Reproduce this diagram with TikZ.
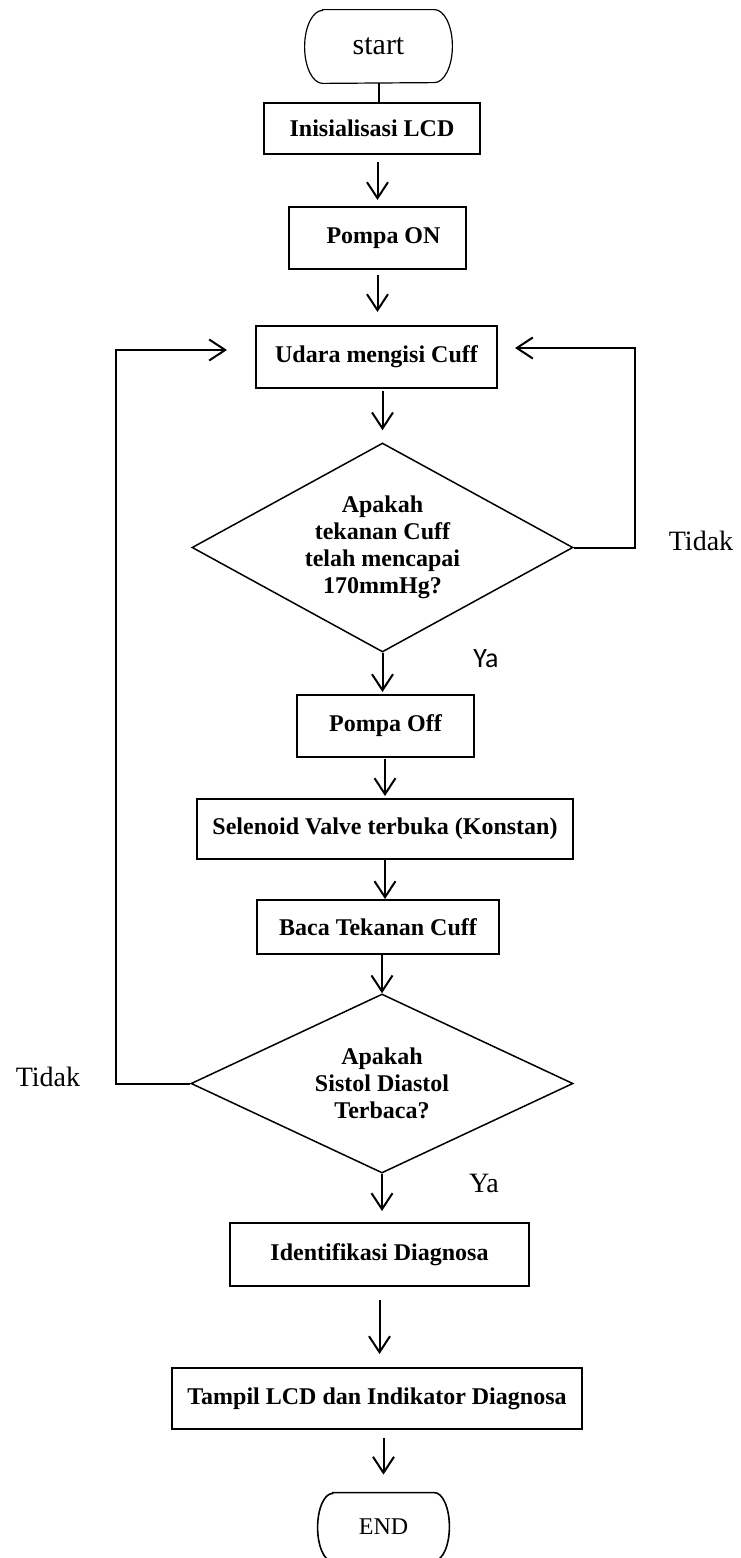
\documentclass[tikz,border=0pt]{standalone}
\usepackage{fontspec}
\setmainfont{Liberation Serif}
\newfontfamily\calibri{Carlito}
\usetikzlibrary{shapes.geometric,arrows.meta}

\begin{document}
\begin{tikzpicture}[x=0.5pt, y=-0.5pt,
    box/.style={draw, line width=1pt, inner sep=0pt,
                font=\fontsize{12}{14}\selectfont\bfseries},
    decision/.style={draw, diamond, line width=0.75pt, inner sep=0pt, align=center,
                     font=\fontsize{12}{13.5}\selectfont\bfseries},
    terminal/.style={inner sep=0pt},
    flow/.style={line width=1pt, -{Straight Barb[length=8pt,width=10.5pt]}},
    answer/.style={font=\fontsize{14}{16}\selectfont}]

  \useasboundingbox (0,0) rectangle (740,1558);

  %                                               x,y (px)
  \node [terminal, minimum width=73.5pt, minimum height=36.5pt,
         font=\fontsize{15}{18}\selectfont] (start) at (378.5,46.5) {start};
  \draw [line width=0.6pt]
        ([xshift=9pt]start.north west) -- ([xshift=-9pt]start.north east)
        arc [start angle=90, end angle=-90, x radius=9pt, y radius=18.25pt]
        -- ([xshift=9pt]start.south west)
        arc [start angle=270, end angle=90, x radius=9pt, y radius=18.25pt] -- cycle;

  \node [box, minimum width=108pt, minimum height=25.5pt] (inis) at (372,128.5) {Inisialisasi LCD};
  \node [box, minimum width=88.5pt, minimum height=31pt] (pompaon) at (377.5,238) {\hspace{6pt}Pompa ON};
  \node [box, minimum width=120.5pt, minimum height=31pt] (udara) at (376.5,357) {Udara mengisi Cuff};

  \node [decision, aspect=1.82, minimum width=190.5pt, minimum height=104.5pt] (d1) at (382.5,547.5)
        {Apakah\\tekanan Cuff\\telah mencapai\\170mmHg?};

  \node [box, minimum width=88.5pt, minimum height=31pt] (pompaoff) at (385.5,726) {Pompa Off};
  \node [box, minimum width=188pt, minimum height=30pt] (selenoid) at (385,829) {Selenoid Valve terbuka (Konstan)};
  \node [box, minimum width=121pt, minimum height=27pt] (baca) at (378,927) {Baca Tekanan Cuff};

  \node [decision, aspect=2.13, minimum width=191pt, minimum height=89.5pt] (d2) at (382,1083.5)
        {Apakah\\Sistol Diastol\\Terbaca?};

  \node [box, minimum width=149.5pt, minimum height=31.5pt] (ident) at (379.5,1254.5) {Identifikasi Diagnosa};
  \node [box, minimum width=205pt, minimum height=30.5pt] (tampil) at (377,1398.5) {Tampil LCD dan Indikator Diagnosa};

  \node [terminal, minimum width=65.5pt, minimum height=34pt,
         font=\fontsize{12}{14}\selectfont] (finish) at (383.5,1527) {END};
  \draw [line width=0.8pt]
        ([xshift=7.5pt]finish.north west) -- ([xshift=-7.5pt]finish.north east)
        arc [start angle=90, end angle=-90, x radius=7.5pt, y radius=17pt]
        -- ([xshift=7.5pt]finish.south west)
        arc [start angle=270, end angle=90, x radius=7.5pt, y radius=17pt] -- cycle;

  % main flow
  \draw [line width=1pt] (start.south) -- (start.south |- inis.north);
  \draw [flow, shorten <=3.5pt, shorten >=3pt] (inis.south -| pompaon) -- (pompaon.north);
  \draw [flow, shorten <=2.5pt, shorten >=6.5pt] (pompaon.south) -- (pompaon.south |- udara.north);
  \draw [flow, shorten <=1pt, shorten >=6pt] (udara.south -| d1) -- (d1.north);
  \draw [flow, shorten >=1pt] (d1.south) -- (d1.south |- pompaoff.north);
  \draw [flow, shorten <=0.5pt, shorten >=1pt] (pompaoff.south -| selenoid) -- (selenoid.north);
  \draw [flow] (selenoid.south) -- (selenoid.south |- baca.north);
  \draw [flow] (baca.south -| d2) -- (d2.north);
  \draw [flow, shorten >=5.5pt] (d2.south) -- (d2.south |- ident.north);
  \draw [flow, shorten <=6.5pt, shorten >=6.5pt] (ident.south) -- (ident.south |- tampil.north);
  \draw [flow, shorten <=4pt, shorten >=9pt] (tampil.south -| finish) -- (finish.north);

  % loops back to Udara mengisi Cuff
  \coordinate (rbot) at (635,547.5);
  \coordinate (rtop) at (635,348);
  \draw [flow, shorten >=8.5pt] (d1.east) -- (rbot) -- (rtop) -- (rtop -| udara.east);

  \coordinate (lbot) at (116,1083.5);
  \coordinate (ltop) at (116,350);
  \draw [flow, shorten >=14pt] (d2.west) -- (lbot) -- (ltop) -- (ltop -| udara.west);

  \node [answer] (tidak1) at (701,541) {Tidak};
  \node [answer, font=\calibri\fontsize{14}{16}\selectfont] (ya1) at (486,659) {Ya};
  \node [answer] (tidak2) at (48,1077) {Tidak};
  \node [answer] (ya2) at (484,1183) {Ya};

\end{tikzpicture}
\end{document}
